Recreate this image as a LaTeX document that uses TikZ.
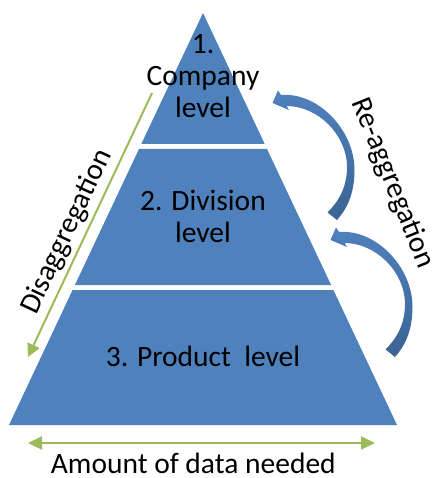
\documentclass[tikz,border=0pt]{standalone}
\usepackage{fontspec}
\setmainfont{Carlito}
\usetikzlibrary{arrows.meta,positioning}

\definecolor{tierblue}{HTML}{4F81BD}
\definecolor{arrowdark}{HTML}{3B6494}
\definecolor{leafgreen}{HTML}{9BBB59}

\begin{document}
\begin{tikzpicture}[
    x=1pt, y=-1pt,
    tier/.style={fill=tierblue},
    lvl/.style={font=\fontsize{29.5}{32}\selectfont, align=center, inner sep=0pt},
    note/.style={font=\fontsize{29.5}{32}\selectfont, inner sep=0pt},
    greenarrow/.style={leafgreen, line width=2pt},
    bentarrow/.style={top color=tierblue, bottom color=arrowdark}
  ]
  \useasboundingbox (0,0) rectangle (432,478);

  % Pyramid: three tiers with white gaps
  \fill[tier] (203,13) -- (264.7,144) -- (141.3,144) -- cycle;
  \fill[tier] (139,149) -- (267,149) -- (331.1,285) -- (74.9,285) -- cycle;
  \fill[tier] (72.6,290) -- (333.4,290) -- (397,425) -- (9,425) -- cycle;

  % Tier labels (base = baseline of the last line)
  \node[lvl, anchor=base] (company) at (203,117.3) {1.\\Company\\level};
  \node[lvl, anchor=base] (division) at (203,242.3) {2. Division\\level};
  \node[lvl, anchor=base] (product) at (203,366) {3. Product\ \ level};

  % Left side: disaggregation down the pyramid
  \coordinate (dtop) at (152,93);
  \coordinate (dbot) at (28,357);
  \draw[greenarrow, -{Triangle[length=13pt, width=13pt]}] (dtop) -- (dbot);
  \node[note, rotate=64.84] (disagg) at (67,232) {Disaggregation};

  % Right side: curved arrows back up
  \foreach \dx/\dy in {0/0, 58/137}{
    \shade[bentarrow, shift={(\dx,\dy)}]
      (272.5,103) -- (278,90.5) -- (281,95)
      .. controls (318,92) and (354.5,130) .. (354.5,170)
      .. controls (354.5,195) and (346,210) .. (337,220)
      -- (327.5,212.5)
      .. controls (338,202) and (347,188) .. (347,167)
      .. controls (347,135) and (318,106) .. (286.5,106)
      -- (289,110) -- cycle;
  }
  \node[note, rotate=-68] (reagg) at (392.5,183) {Re-aggregation};

  % Bottom: width of the pyramid
  \coordinate (wleft) at (28,443);
  \coordinate (wright) at (375,443);
  \draw[greenarrow, {Triangle[length=14pt, width=13pt]}-{Triangle[length=14pt, width=13pt]}] (wleft) -- (wright);
  \node[note, anchor=base] (amount) at (193.3,473.3) {Amount of data needed};

\end{tikzpicture}
\end{document}
